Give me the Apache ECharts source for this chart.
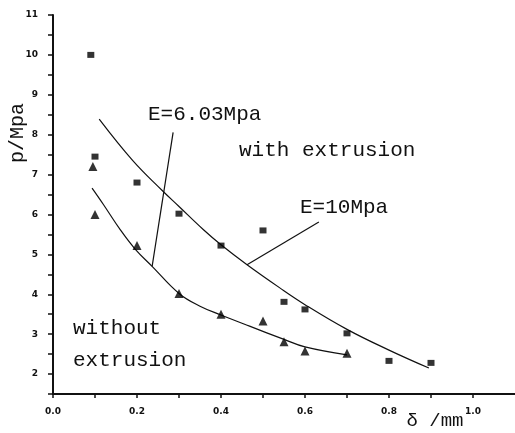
<!DOCTYPE html>
<html>
<head>
<meta charset="utf-8">
<script src="https://cdn.jsdelivr.net/npm/echarts@6/dist/echarts.min.js"></script>
<style>
html,body{margin:0;padding:0;background:#fff;}
#chart{width:515px;height:433px;}
</style>
</head>
<body>
<div id="chart"></div>
<script>
// measured points: with extrusion (squares)
const withExtrusion = [[0.09,10.0],[0.1,7.45],[0.2,6.8],[0.3,6.02],[0.4,5.22],[0.5,5.6],[0.55,3.81],[0.6,3.62],[0.7,3.02],[0.8,2.33],[0.9,2.28]];
// measured points: without extrusion (triangles)
const withoutExtrusion = [[0.095,7.2],[0.1,6.0],[0.2,5.22],[0.3,4.02],[0.4,3.5],[0.5,3.33],[0.55,2.81],[0.6,2.58],[0.7,2.52]];
// fitted curves
const fitWith = [[0.11,8.39],[0.19,7.35],[0.26,6.6],[0.30,6.2],[0.357,5.63],[0.40,5.24],[0.462,4.74],[0.54,4.16],[0.60,3.74],[0.70,3.12],[0.80,2.6],[0.895,2.15]];
const fitWithout = [[0.093,6.66],[0.12,6.25],[0.16,5.62],[0.195,5.14],[0.236,4.7],[0.30,4.02],[0.35,3.7],[0.40,3.48],[0.468,3.2],[0.55,2.87],[0.60,2.68],[0.70,2.48]];
// annotation leader lines
const leader603 = [[0.236,4.7],[0.286,8.06]];
const leader10 = [[0.462,4.74],[0.633,5.81]];
// axis settings
const xTickLabels = ['0.0','0.2','0.4','0.6','0.8','1.0'];
const yTickLabels = ['2','3','4','5','6','7','8','9','10','11'];

const chart = echarts.init(document.getElementById('chart'));
const mono = '"Liberation Mono", "DejaVu Sans Mono", monospace';
const curveStyle = {color:'#111', width:1.2};
function lineSeries(data, smooth){
  return {type:'line', data:data, showSymbol:false, symbol:'none', smooth:smooth, lineStyle:curveStyle, silent:true, z:3};
}
chart.setOption({
  animation:false,
  backgroundColor:'#ffffff',
  grid:{left:53, top:15, right:-1, bottom:39, containLabel:false},
  xAxis:{
    type:'value', min:0, max:1.1, interval:0.1,
    axisLine:{onZero:false, lineStyle:{color:'#111', width:2}},
    axisTick:{show:true, inside:false, length:4, lineStyle:{color:'#111', width:1.5}},
    splitLine:{show:false},
    axisLabel:{margin:13, fontSize:9, fontWeight:'bold', color:'#111', fontFamily:'"DejaVu Sans", sans-serif',
      showMaxLabel:false,
      formatter:function(v){const r=Math.round(v*10); if(r%2===0 && r/2 < xTickLabels.length) return xTickLabels[r/2]; return '';}}
  },
  yAxis:{
    type:'value', min:1.5, max:11, interval:0.5,
    axisLine:{show:true, onZero:false, lineStyle:{color:'#111', width:2}},
    axisTick:{show:true, inside:false, length:5, lineStyle:{color:'#111', width:1.5}},
    splitLine:{show:false},
    axisLabel:{margin:15, fontSize:9, fontWeight:'bold', color:'#111', fontFamily:'"DejaVu Sans", sans-serif',
      formatter:function(v){const r=Math.round(v*2); if(r%2===0){const i=r/2-2; if(i>=0 && i<yTickLabels.length) return yTickLabels[i];} return '';}}
  },
  series:[
    lineSeries(fitWith, 0.4),
    lineSeries(fitWithout, 0.4),
    lineSeries(leader603, false),
    lineSeries(leader10, false),
    {type:'scatter', data:withExtrusion, symbol:'rect', symbolSize:[7,6], itemStyle:{color:'#000'}, z:4},
    {type:'scatter', data:withoutExtrusion, symbol:'triangle', symbolSize:9, itemStyle:{color:'#000'}, z:4}
  ],
  graphic:[
    {type:'text', x:148, y:114, style:{text:'E=6.03Mpa', font:'21px '+mono, fill:'#111', verticalAlign:'middle'}},
    {type:'text', x:239, y:150, style:{text:'with extrusion', font:'21px '+mono, fill:'#111', verticalAlign:'middle'}},
    {type:'text', x:300, y:207, style:{text:'E=10Mpa', font:'21px '+mono, fill:'#111', verticalAlign:'middle'}},
    {type:'text', x:73, y:328, style:{text:'without', font:'21px '+mono, fill:'#111', verticalAlign:'middle'}},
    {type:'text', x:73, y:360, style:{text:'extrusion', font:'21px '+mono, fill:'#111', verticalAlign:'middle'}},
    {type:'text', x:18, y:133, rotation:Math.PI/2, style:{text:'p/Mpa', font:'20px '+mono, fill:'#111', align:'center', verticalAlign:'middle'}},
    {type:'text', x:435, y:421, style:{text:'δ /mm', font:'19px '+mono, fill:'#111', align:'center', verticalAlign:'middle'}}
  ]
});
</script>
</body>
</html>
